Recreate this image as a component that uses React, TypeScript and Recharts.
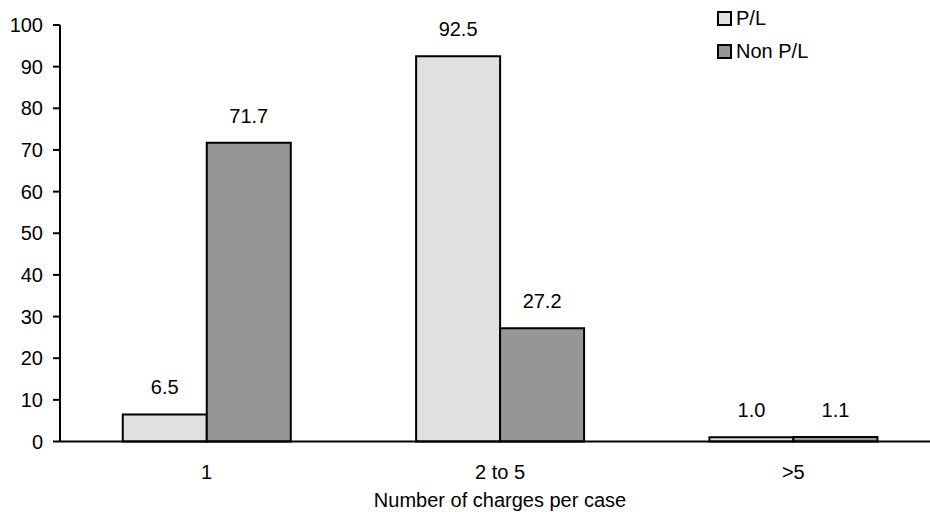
import React from "react";
import { BarChart, Bar, XAxis, YAxis, LabelList, Legend } from "recharts";

const categories = ["1", "2 to 5", ">5"];
const plValues = [6.5, 92.5, 1.0];
const nonPlValues = [71.7, 27.2, 1.1];
const yTicks = [0, 10, 20, 30, 40, 50, 60, 70, 80, 90, 100];
const edgeTicks = [0, 1, 2, 3];
const seriesNames = ["P/L", "Non P/L"];
const seriesColors = ["#e0e0e0", "#969696"];

const data = categories.map((c, i) => ({ cat: c, pl: plValues[i], nonpl: nonPlValues[i] }));

const FONT = "'Liberation Sans', Arial, sans-serif";
const FS = 20;

const LegendContent = () => (
  <div style={{ fontFamily: FONT, fontSize: FS, color: "#000", display: "flex", flexDirection: "column", gap: 12 }}>
    {seriesNames.map((n, i) => (
      <div key={n} style={{ display: "flex", alignItems: "center", height: 21 }}>
        <div style={{ width: 15, height: 15, boxSizing: "border-box", border: "2px solid #000", background: seriesColors[i], marginRight: 4 }} />
        <span style={{ lineHeight: "21px" }}>{n}</span>
      </div>
    ))}
  </div>
);

export default function App() {
  return (
    <div style={{ position: "absolute", left: 0, top: 0, width: 930, height: 512, overflow: "hidden", background: "#fff" }}>
      <BarChart
        width={945}
        height={512}
        data={data}
        margin={{ top: 25, right: 5, bottom: 10.5, left: 0 }}
        barCategoryGap="21.4%"
        barGap={0}
        style={{ fontFamily: FONT }}
      >
        <XAxis
          xAxisId={0}
          type="number"
          domain={[0, 3]}
          ticks={edgeTicks}
          height={1}
          tick={false}
          tickSize={7}
          axisLine={{ stroke: "#000", strokeWidth: 2 }}
          tickLine={{ stroke: "#000", strokeWidth: 2 }}
          allowDataOverflow
        />
        <XAxis
          xAxisId="cat"
          dataKey="cat"
          height={59}
          axisLine={false}
          tickLine={false}
          tickSize={0}
          tickMargin={22.5}
          tick={{ fill: "#000", fontSize: FS }}
          interval={0}
          label={{ value: "Number of charges per case", position: "bottom", offset: -8.5, fill: "#000", fontSize: FS }}
        />
        <YAxis
          width={60}
          domain={[0, 100]}
          ticks={yTicks}
          interval={0}
          tickSize={7}
          tickMargin={10}
          axisLine={{ stroke: "#000", strokeWidth: 2 }}
          tickLine={{ stroke: "#000", strokeWidth: 2 }}
          tick={{ fill: "#000", fontSize: FS }}
        />
        <Legend
          layout="horizontal"
          verticalAlign="middle"
          align="center"
          content={<LegendContent />}
          wrapperStyle={{ position: "absolute", left: 717, top: 8, width: "auto" }}
        />
        <Bar xAxisId="cat" dataKey="pl" name="P/L" fill={seriesColors[0]} stroke="#000" strokeWidth={2} isAnimationActive={false}>
          <LabelList dataKey="pl" position="top" offset={20} fill="#000" fontSize={FS} formatter={(v: any) => Number(v).toFixed(1)} />
        </Bar>
        <Bar xAxisId="cat" dataKey="nonpl" name="Non P/L" fill={seriesColors[1]} stroke="#000" strokeWidth={2} isAnimationActive={false}>
          <LabelList dataKey="nonpl" position="top" offset={20} fill="#000" fontSize={FS} formatter={(v: any) => Number(v).toFixed(1)} />
        </Bar>
      </BarChart>
    </div>
  );
}
